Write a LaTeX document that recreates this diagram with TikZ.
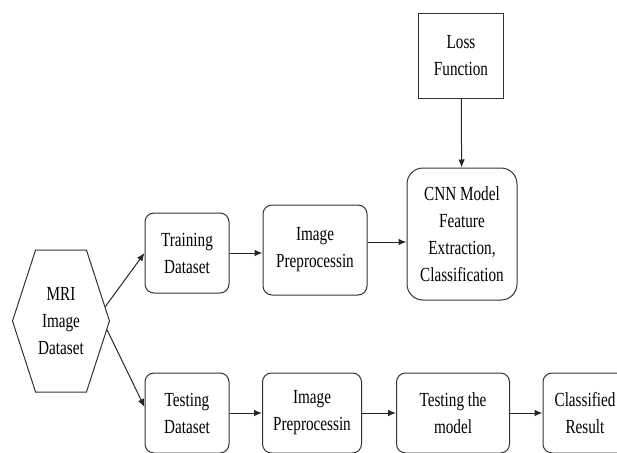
\documentclass[tikz,border=0pt]{standalone}
\usepackage{fontspec}
\setmainfont{Liberation Serif}[FakeStretch=0.76]
\usepackage{tikz}
\usetikzlibrary{arrows.meta,shapes.symbols}

\begin{document}
\begin{tikzpicture}[x=1pt,y=-1pt,
    font=\fontsize{20}{27}\selectfont,
    every node/.style={draw=black!80,line width=1pt,align=center,inner sep=1pt},
    blk/.style={rounded corners=9pt},
    bigblk/.style={rounded corners=16pt},
    hexa/.style={signal,signal to=west and east,signal pointer angle=144},
    arr/.style={draw=black!85,line width=1pt,-{Latex[length=8pt,width=6.5pt]}}]
  \useasboundingbox (0,0) rectangle (617,452);
  \clip (0,0) rectangle (617,452);
    %left side: the data set split into two branches
  \node[hexa,minimum width=97pt,minimum height=142pt] (mri) at (61,321) {MRI\\Image\\Dataset};
    %upper row: training
  \node[blk,minimum width=84pt,minimum height=80pt] (train) at (187,253) {Training\\Dataset};
  \node[blk,minimum width=104pt,minimum height=90pt] (prep1) at (315,250) {Image\\Preprocessin};
  \node[bigblk,minimum width=110pt,minimum height=132pt] (cnn) at (462,234) {CNN Model\\Feature\\Extraction,\\Classification};
  \node[minimum width=85pt,minimum height=85pt] (loss) at (461,56) {Loss\\Function};
    %lower row: testing
  \node[blk,minimum width=84pt,minimum height=80pt] (test) at (187,413) {Testing\\Dataset};
  \node[blk,minimum width=99pt,minimum height=80pt] (prep2) at (312,413) {Image\\Preprocessin};
  \node[blk,minimum width=113pt,minimum height=80pt] (tmodel) at (453,413) {Testing the\\model};
  \node[blk,minimum width=84pt,minimum height=80pt] (result) at (585,413) {Classified\\Result};
    %connectors
  \coordinate (p1out) at ([yshift=8pt]prep1.east);
  \draw[arr] (mri.18) -- (train.west);
  \draw[arr] (mri.-11) -- ([yshift=6pt]test.west);
  \draw[arr] (train) -- (prep1.west |- train);
  \draw[arr] (p1out) -- (cnn.west |- p1out);
  \draw[arr] (loss) -- (cnn);
  \draw[arr] (test) -- (prep2);
  \draw[arr] (prep2) -- (tmodel);
  \draw[arr] (tmodel) -- (result);
\end{tikzpicture}
\end{document}
